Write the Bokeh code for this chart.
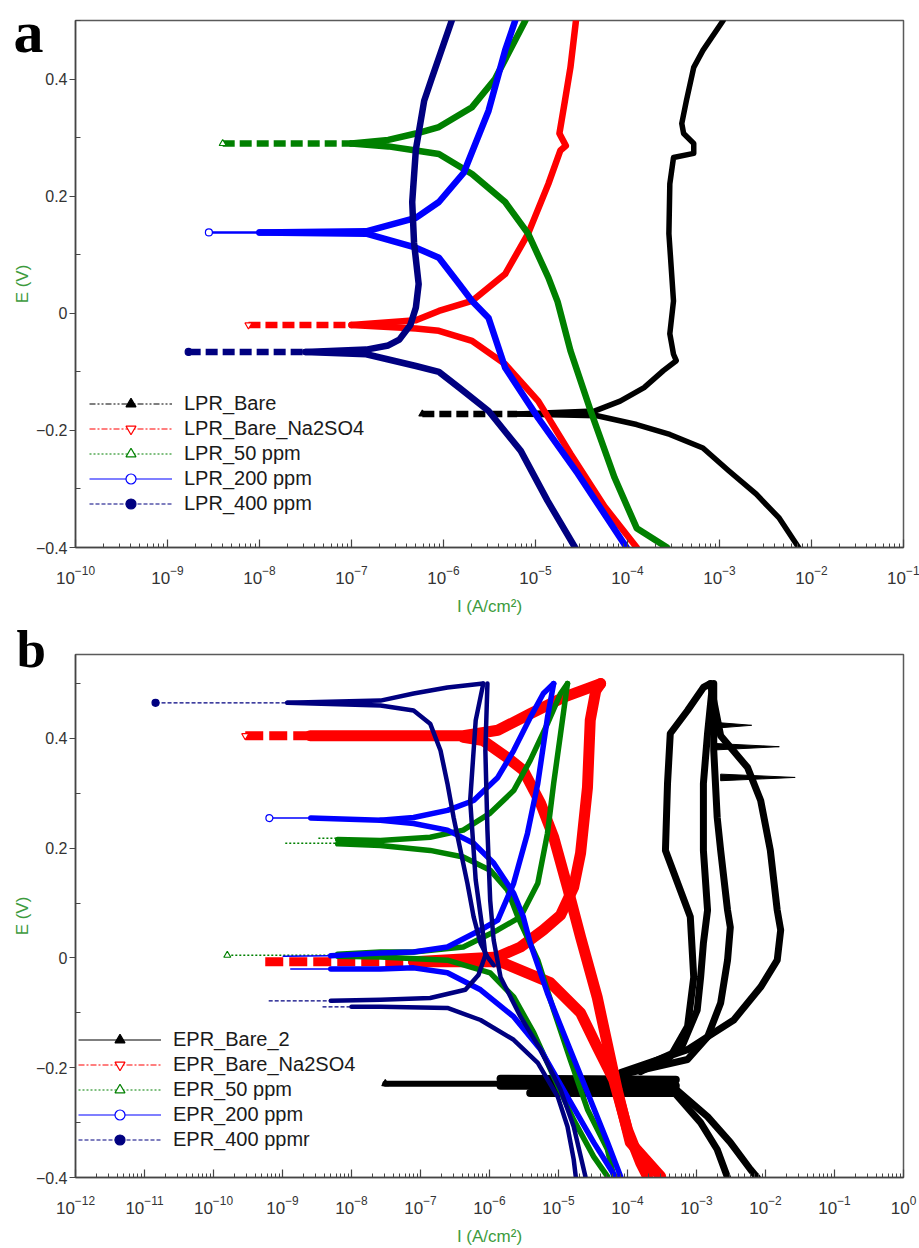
from bokeh.plotting import figure
from bokeh.models import FixedTicker, Legend, LegendItem, Title
from bokeh.layouts import column
from bokeh.embed import file_html
from bokeh.resources import INLINE

FONT = "Liberation Sans"
TXT = "#333333"
AXC = "#444444"
LABEL_GREEN = "#3d9b3d"

# series colours (Bare, Bare_Na2SO4, 50 ppm, 200 ppm, 400 ppm)
COLORS = ["#000000", "#ff0000", "#008000", "#0000ff", "#000080"]
LEG_DASH_A = ["6 2 2 2 2 2", "6 2 2 2", "2 2", "solid", "4 2"]
LEG_DASH_B = ["solid", "6 2 2 2", "2 2", "solid", "4 2"]
LEG_MARK = ["triangle", "inverted_triangle", "triangle", "circle", "circle"]
LEG_FILL = ["#000000", "#ffffff", "#ffffff", "#ffffff", "#000080"]

A_LABELS = ["LPR_Bare", "LPR_Bare_Na2SO4", "LPR_50 ppm", "LPR_200 ppm", "LPR_400 ppm"]
B_LABELS = ["EPR_Bare_2", "EPR_Bare_Na2SO4", "EPR_50 ppm", "EPR_200 ppm", "EPR_400 ppmr"]

A_X_TICKS = [1e-10, 1e-9, 1e-8, 1e-7, 1e-6, 1e-5, 1e-4, 1e-3, 1e-2, 1e-1]
B_X_TICKS = [1e-12, 1e-11, 1e-10, 1e-9, 1e-8, 1e-7, 1e-6, 1e-5, 1e-4, 1e-3, 1e-2, 1e-1, 1e0]
Y_TICKS = [-0.4, -0.2, 0.0, 0.2, 0.4]
Y_MINOR = [-0.3, -0.1, 0.1, 0.3, 0.5]

# ---------------- panel a (LPR): log10 I (A/cm2) and E (V) ----------------
a_bare_ecorr_logi = [-6.23, -5.20]
a_bare_ecorr_e = [-0.172, -0.172]
a_bare_an_logi = [-5.20, -4.36, -4.08, -3.82, -3.61, -3.47, -3.50, -3.54, -3.50, -3.55,
                  -3.54, -3.50, -3.28, -3.28, -3.39, -3.41, -3.36, -3.28, -3.18, -2.96]
a_bare_an_e = [-0.172, -0.167, -0.150, -0.127, -0.098, -0.081, -0.070, -0.035, 0.021, 0.136,
               0.221, 0.266, 0.273, 0.290, 0.307, 0.324, 0.363, 0.420, 0.449, 0.500]
a_bare_cath_logi = [-5.20, -4.33, -3.90, -3.54, -3.18, -2.90, -2.60, -2.35, -2.14]
a_bare_cath_e = [-0.172, -0.175, -0.190, -0.207, -0.230, -0.269, -0.309, -0.350, -0.400]

a_na_ecorr_logi = [-8.12, -7.00]
a_na_ecorr_e = [-0.020, -0.020]
a_na_an_logi = [-7.00, -6.30, -6.05, -5.69, -5.33, -5.08, -4.86, -4.73, -4.67, -4.74, -4.68, -4.62, -4.56]
a_na_an_e = [-0.020, -0.012, 0.004, 0.021, 0.067, 0.136, 0.221, 0.278, 0.286, 0.307, 0.363, 0.420, 0.500]
a_na_cath_logi = [-7.00, -6.30, -6.05, -5.69, -5.33, -4.97, -4.62, -4.25, -3.90]
a_na_cath_e = [-0.020, -0.026, -0.030, -0.047, -0.087, -0.150, -0.240, -0.330, -0.400]

a_50_ecorr_logi = [-8.40, -7.00]
a_50_ecorr_e = [0.290, 0.290]
a_50_an_logi = [-7.00, -6.60, -6.30, -6.05, -5.69, -5.44, -5.11]
a_50_an_e = [0.290, 0.296, 0.307, 0.318, 0.352, 0.400, 0.500]
a_50_cath_logi = [-7.00, -6.60, -6.30, -6.05, -5.69, -5.33, -5.08, -4.86, -4.76, -4.62, -4.40, -4.14, -3.90, -3.57]
a_50_cath_e = [0.290, 0.285, 0.278, 0.272, 0.238, 0.190, 0.136, 0.061, 0.020, -0.064, -0.167, -0.281, -0.367, -0.400]

a_200_ecorr_logi = [-8.55, -8.00]
a_200_ecorr_e = [0.138, 0.138]
a_200_an_logi = [-8.00, -6.84, -6.30, -6.05, -5.78, -5.51, -5.33, -5.22]
a_200_an_e = [0.138, 0.140, 0.163, 0.190, 0.240, 0.346, 0.449, 0.500]
a_200_cath_logi = [-8.00, -6.84, -6.30, -6.05, -5.83, -5.69, -5.51, -5.33, -4.97, -4.54, -4.01]
a_200_cath_e = [0.138, 0.136, 0.112, 0.095, 0.050, 0.021, -0.008, -0.093, -0.179, -0.274, -0.400]

a_400_ecorr_logi = [-8.77, -7.50]
a_400_ecorr_e = [-0.066, -0.066]
a_400_an_logi = [-7.50, -6.84, -6.60, -6.48, -6.36, -6.30, -6.27, -6.32, -6.34, -6.30, -6.21, -6.13, -5.91]
a_400_an_e = [-0.066, -0.062, -0.055, -0.045, -0.020, 0.010, 0.050, 0.120, 0.190, 0.280, 0.363, 0.400, 0.500]
a_400_cath_logi = [-7.50, -6.84, -6.30, -6.05, -5.83, -5.51, -5.16, -4.87, -4.57]
a_400_cath_e = [-0.066, -0.070, -0.090, -0.100, -0.127, -0.167, -0.235, -0.320, -0.400]

# ---------------- panel b (EPR): log10 I (A/cm2) and E (V) ----------------
b_bare_ecorr_logi = [-7.51, -5.84]
b_bare_ecorr_e = [-0.229, -0.229]
b_bare_band_logi = [-5.84, -3.30]
b_bare_band_e1 = [-0.220, -0.222]
b_bare_band_e2 = [-0.233, -0.233]
b_bare_band2_logi = [-5.41, -3.35]
b_bare_band_e3 = [-0.246, -0.246]
b_bare_an1_logi = [-4.10, -3.13, -2.46, -2.07, -1.83, -1.78, -1.83, -1.93, -2.07, -2.26, -2.65, -2.75, -2.80]
b_bare_an1_e = [-0.209, -0.167, -0.113, -0.053, -0.004, 0.051, 0.087, 0.196, 0.287, 0.347, 0.405, 0.469, 0.500]
b_bare_an2_logi = [-4.10, -3.13, -2.84, -2.65, -2.55, -2.51, -2.55, -2.65, -2.70, -2.75, -2.75]
b_bare_an2_e = [-0.213, -0.185, -0.144, -0.082, -0.004, 0.056, 0.087, 0.196, 0.256, 0.378, 0.500]
b_bare_an3_logi = [-4.10, -3.23, -2.99, -2.94, -2.90, -2.84, -2.90, -2.90, -2.84, -2.77]
b_bare_an3_e = [-0.216, -0.167, -0.095, -0.035, 0.027, 0.087, 0.196, 0.318, 0.409, 0.496]
b_bare_an4_logi = [-3.81, -3.38, -3.13, -3.04, -3.09, -3.45, -3.42, -3.38, -3.13, -2.90, -2.80]
b_bare_an4_e = [-0.207, -0.180, -0.125, -0.035, 0.075, 0.196, 0.318, 0.409, 0.451, 0.493, 0.500]
b_bare_cath1_logi = [-3.33, -2.84, -2.51, -2.22, -2.12]
b_bare_cath1_e = [-0.236, -0.289, -0.336, -0.385, -0.400]
b_bare_cath2_logi = [-3.33, -2.94, -2.70, -2.55]
b_bare_cath2_e = [-0.244, -0.300, -0.349, -0.400]
b_bare_spike_e = [0.424, 0.385, 0.329]
b_bare_spike_base = [-2.80, -2.75, -2.65]
b_bare_spike_tip = [-2.20, -1.80, -1.57]
b_bare_spike_half = 0.006

b_na_ecorr_hi_logi = [-9.54, -8.60]
b_na_ecorr_hi_e = [0.405, 0.405]
b_na_up_logi = [-8.60, -7.58, -6.38, -5.88, -5.41, -4.93, -4.39]
b_na_up_e = [0.405, 0.405, 0.405, 0.415, 0.445, 0.475, 0.500]
b_na_dn_logi = [-6.38, -6.09, -5.74, -5.51, -5.26, -5.07, -4.87, -4.68, -4.44, -4.15, -3.96, -3.52]
b_na_dn_e = [0.402, 0.396, 0.365, 0.342, 0.282, 0.220, 0.129, 0.038, -0.071, -0.240, -0.336, -0.398]
b_na_ecorr_lo_logi = [-9.25, -7.10]
b_na_ecorr_lo_e = [-0.007, -0.007]
b_na_rev_logi = [-7.10, -5.88, -5.55, -5.22, -4.97, -4.78, -4.68, -4.58, -4.54, -4.46, -4.39]
b_na_rev_e = [-0.007, 0.002, 0.020, 0.051, 0.078, 0.129, 0.191, 0.311, 0.433, 0.487, 0.500]
b_na_cath_logi = [-7.10, -5.84, -5.12, -4.68, -4.44, -4.20, -4.00, -3.81, -3.71]
b_na_cath_e = [-0.007, -0.007, -0.045, -0.100, -0.162, -0.222, -0.313, -0.373, -0.398]

b_50_ecorr_hi1_logi = [-8.96, -8.20]
b_50_ecorr_hi1_e = [0.209, 0.209]
b_50_ecorr_hi2_logi = [-8.48, -8.20]
b_50_ecorr_hi2_e = [0.218, 0.218]
b_50_up_logi = [-8.20, -7.58, -6.86, -6.38, -5.99, -5.65, -5.41, -5.16, -4.97, -4.87]
b_50_up_e = [0.216, 0.214, 0.220, 0.233, 0.264, 0.305, 0.360, 0.427, 0.482, 0.500]
b_50_dn_logi = [-8.20, -7.58, -6.86, -6.38, -5.99, -5.74, -5.59, -5.30, -5.07, -4.83, -4.58, -4.29, -4.20]
b_50_dn_e = [0.208, 0.205, 0.196, 0.184, 0.160, 0.124, 0.075, -0.004, -0.095, -0.185, -0.276, -0.349, -0.398]
b_50_rev_logi = [-4.87, -4.97, -5.07, -5.16, -5.30, -5.55, -5.88, -6.38, -7.10, -7.58, -8.20]
b_50_rev_e = [0.500, 0.409, 0.318, 0.227, 0.136, 0.075, 0.051, 0.020, 0.011, 0.011, 0.007]
b_50_ecorr_lo_logi = [-9.80, -8.20]
b_50_ecorr_lo_e = [0.005, 0.005]
b_50_cath_logi = [-8.20, -7.58, -6.61, -5.99, -5.65, -5.36, -5.07, -4.78, -4.49, -4.29]
b_50_cath_e = [0.003, 0.002, -0.004, -0.027, -0.071, -0.136, -0.216, -0.295, -0.362, -0.398]

b_200_ecorr_hi_logi = [-9.19, -8.59]
b_200_ecorr_hi_e = [0.255, 0.255]
b_200_up_logi = [-8.59, -7.58, -7.10, -6.61, -6.23, -5.88, -5.65, -5.41, -5.22, -5.07]
b_200_up_e = [0.255, 0.251, 0.256, 0.269, 0.287, 0.329, 0.378, 0.438, 0.482, 0.500]
b_200_dn_logi = [-7.58, -7.10, -6.61, -6.23, -5.94, -5.65, -5.51, -5.41, -5.16, -4.87, -4.58, -4.29, -4.10]
b_200_dn_e = [0.251, 0.245, 0.233, 0.209, 0.173, 0.118, 0.075, 0.027, -0.064, -0.155, -0.245, -0.336, -0.398]
b_200_rev_logi = [-5.07, -5.16, -5.30, -5.45, -5.65, -5.88, -6.13, -6.61, -7.10, -7.58, -8.30]
b_200_rev_e = [0.500, 0.438, 0.318, 0.227, 0.136, 0.069, 0.051, 0.020, 0.011, 0.009, 0.004]
b_200_ecorr_lo1_logi = [-8.99, -8.30]
b_200_ecorr_lo1_e = [0.003, 0.004]
b_200_ecorr_lo2_logi = [-8.88, -8.30]
b_200_ecorr_lo2_e = [-0.020, -0.020]
b_200_cath_logi = [-8.30, -7.58, -7.10, -6.61, -6.13, -5.65, -5.26, -4.87, -4.49, -4.17]
b_200_cath_e = [-0.020, -0.020, -0.018, -0.027, -0.058, -0.107, -0.167, -0.253, -0.336, -0.400]

b_400_ecorr_hi_logi = [-10.84, -8.93]
b_400_ecorr_hi_e = [0.465, 0.465]
b_400_up_logi = [-8.93, -7.58, -7.10, -6.61, -6.09]
b_400_up_e = [0.465, 0.469, 0.482, 0.493, 0.500]
b_400_dn_logi = [-8.93, -7.58, -7.10, -6.86, -6.71, -6.61, -6.52, -6.42, -6.32, -6.23, -6.13, -6.03, -5.94]
b_400_dn_e = [0.465, 0.460, 0.451, 0.427, 0.378, 0.318, 0.256, 0.196, 0.136, 0.075, 0.027, 0.002, -0.013]
b_400_rev1_logi = [-6.09, -6.20, -6.28, -6.20, -6.10, -6.06, -6.16, -6.35, -6.86, -7.58, -8.30]
b_400_rev1_e = [0.500, 0.433, 0.287, 0.142, 0.051, 0.005, -0.031, -0.058, -0.073, -0.076, -0.078]
b_400_rev2_logi = [-6.03, -6.06, -6.03, -5.99, -5.94, -5.84, -5.55, -5.26, -4.97, -4.78, -4.61]
b_400_rev2_e = [0.500, 0.378, 0.233, 0.105, 0.033, -0.035, -0.107, -0.167, -0.240, -0.307, -0.398]
b_400_ecorr_lo1_logi = [-9.20, -8.30]
b_400_ecorr_lo1_e = [-0.078, -0.078]
b_400_ecorr_lo2_logi = [-8.42, -8.00]
b_400_ecorr_lo2_e = [-0.089, -0.089]
b_400_cath_logi = [-8.00, -7.58, -6.61, -6.13, -5.65, -5.30, -5.01, -4.87, -4.78, -4.75]
b_400_cath_e = [-0.089, -0.089, -0.091, -0.113, -0.149, -0.191, -0.253, -0.307, -0.367, -0.398]


def to_i(logi):
    return [10.0 ** v for v in logi]


def curve(p, logi, e, color, width, dash="solid"):
    cap = "round" if dash == "solid" else "butt"
    p.line(to_i(logi), e, line_color=color, line_width=width, line_dash=dash,
           line_join="round", line_cap=cap)


def make_fig(height, xr, ticks, yr, b_left, b_right, b_top, b_bottom):
    p = figure(width=919, height=height, x_axis_type="log", x_range=xr, y_range=yr,
               output_backend="svg", toolbar_location=None,
               min_border_left=b_left, min_border_right=b_right,
               min_border_top=b_top, min_border_bottom=b_bottom,
               background_fill_color="white", border_fill_color="white")
    p.xgrid.visible = False
    p.ygrid.visible = False
    p.outline_line_color = "#5a5a5a"
    p.outline_line_width = 1.5
    minor = [m * t for t in ticks[:-1] for m in range(2, 10)]
    p.xaxis.ticker = FixedTicker(ticks=ticks, minor_ticks=minor)
    p.yaxis.ticker = FixedTicker(ticks=Y_TICKS, minor_ticks=Y_MINOR)
    for ax in (p.xaxis[0], p.yaxis[0]):
        ax.axis_line_color = AXC
        ax.axis_line_width = 1.5
        ax.major_tick_line_color = AXC
        ax.minor_tick_line_color = AXC
        ax.major_tick_line_width = 1.2
        ax.major_label_text_font = FONT
        ax.major_label_text_color = TXT
        ax.axis_label_text_font = FONT
        ax.axis_label_text_font_size = "17px"
        ax.axis_label_text_font_style = "normal"
        ax.axis_label_text_color = LABEL_GREEN
    p.xaxis.major_label_text_font_size = "17px"
    p.yaxis.major_label_text_font_size = "16px"
    p.xaxis.major_tick_in = 8
    p.xaxis.major_tick_out = 0
    p.xaxis.minor_tick_in = 4
    p.xaxis.minor_tick_out = 0
    p.xaxis.major_label_standoff = 18
    p.xaxis.axis_label_standoff = 10
    p.yaxis.major_tick_in = 0
    p.yaxis.major_tick_out = 6
    p.yaxis.minor_tick_in = 5
    p.yaxis.minor_tick_out = 0
    p.yaxis.major_label_standoff = 2
    p.yaxis.axis_label_standoff = 1
    p.xaxis.axis_label = "I (A/cm\u00b2)"
    p.yaxis.axis_label = "E (V)"
    return p


def add_legend(p, labels, dashes, starts, x, y):
    items = []
    for lab, col, dash, mk, fill, (sx, sy) in zip(labels, COLORS, dashes, LEG_MARK, LEG_FILL, starts):
        lr = p.line(to_i([sx]), [sy], line_color=col, line_width=1.2, line_dash=dash)
        mr = p.scatter(to_i([sx]), [sy], marker=mk, size=7, line_color=col,
                       fill_color=fill, line_width=1.2)
        items.append(LegendItem(label=lab, renderers=[lr, mr]))
    leg = Legend(items=items, location=(x, y), glyph_width=83, glyph_height=25,
                 label_height=20, spacing=0, padding=0, margin=0, label_standoff=12,
                 label_text_font=FONT, label_text_font_size="20px",
                 label_text_color="#1a1a1a", label_text_baseline="middle",
                 border_line_alpha=0, background_fill_alpha=0)
    p.add_layout(leg)


def panel_letter(p, text, offset, standoff, size, line_height=1.0):
    p.add_layout(Title(text=text, align="left", vertical_align="bottom", offset=offset,
                       standoff=standoff, text_font="Liberation Serif",
                       text_font_style="bold", text_font_size=size, text_color="black",
                       text_line_height=line_height),
                 "above")


# ---------------- panel a ----------------
pa = make_fig(620, (1e-10, 1e-1), A_X_TICKS, (-0.4, 0.5), 73, 10, 20, 73)
W = 6.5
DASH = "12 5"
curve(pa, a_bare_ecorr_logi, a_bare_ecorr_e, COLORS[0], W, DASH)
curve(pa, a_bare_an_logi, a_bare_an_e, COLORS[0], 5.5)
curve(pa, a_bare_cath_logi, a_bare_cath_e, COLORS[0], 5.5)
curve(pa, a_na_ecorr_logi, a_na_ecorr_e, COLORS[1], W, DASH)
curve(pa, a_na_an_logi, a_na_an_e, COLORS[1], W)
curve(pa, a_na_cath_logi, a_na_cath_e, COLORS[1], W)
curve(pa, a_50_ecorr_logi, a_50_ecorr_e, COLORS[2], W, DASH)
curve(pa, a_50_an_logi, a_50_an_e, COLORS[2], W)
curve(pa, a_50_cath_logi, a_50_cath_e, COLORS[2], W)
curve(pa, a_200_ecorr_logi, a_200_ecorr_e, COLORS[3], 2.5)
curve(pa, a_200_an_logi, a_200_an_e, COLORS[3], W)
curve(pa, a_200_cath_logi, a_200_cath_e, COLORS[3], W)
curve(pa, a_400_ecorr_logi, a_400_ecorr_e, COLORS[4], W, DASH)
curve(pa, a_400_an_logi, a_400_an_e, COLORS[4], W)
curve(pa, a_400_cath_logi, a_400_cath_e, COLORS[4], W)
a_starts = [(a_bare_ecorr_logi[0], a_bare_ecorr_e[0]), (a_na_ecorr_logi[0], a_na_ecorr_e[0]),
            (a_50_ecorr_logi[0], a_50_ecorr_e[0]), (a_200_ecorr_logi[0], a_200_ecorr_e[0]),
            (a_400_ecorr_logi[0], a_400_ecorr_e[0])]
add_legend(pa, A_LABELS, LEG_DASH_A, a_starts, 14, 31)
panel_letter(pa, "\na", -62, -90, "60px", line_height=0.47)

# ---------------- panel b ----------------
pb = make_fig(628, (1e-12, 1e0), B_X_TICKS, (-0.4, 0.553), 75, 16, 34, 70)
BW = 7
curve(pb, b_bare_ecorr_logi, b_bare_ecorr_e, COLORS[0], 6)
curve(pb, b_bare_band_logi, b_bare_band_e1, COLORS[0], 8)
curve(pb, b_bare_band_logi, b_bare_band_e2, COLORS[0], 8)
curve(pb, b_bare_band2_logi, b_bare_band_e3, COLORS[0], 8)
for lg, ee in [(b_bare_an1_logi, b_bare_an1_e), (b_bare_an2_logi, b_bare_an2_e),
               (b_bare_an3_logi, b_bare_an3_e), (b_bare_an4_logi, b_bare_an4_e),
               (b_bare_cath1_logi, b_bare_cath1_e), (b_bare_cath2_logi, b_bare_cath2_e)]:
    curve(pb, lg, ee, COLORS[0], BW)
pb.patches([to_i([b0, t, b0]) for b0, t in zip(b_bare_spike_base, b_bare_spike_tip)],
           [[e - b_bare_spike_half, e, e + b_bare_spike_half] for e in b_bare_spike_e],
           fill_color=COLORS[0], line_color=COLORS[0], line_width=1)
curve(pb, b_na_ecorr_hi_logi, b_na_ecorr_hi_e, COLORS[1], 9, "18 6")
curve(pb, b_na_ecorr_lo_logi, b_na_ecorr_lo_e, COLORS[1], 9, "18 6")
for lg, ee in [(b_na_up_logi, b_na_up_e), (b_na_dn_logi, b_na_dn_e),
               (b_na_rev_logi, b_na_rev_e), (b_na_cath_logi, b_na_cath_e)]:
    curve(pb, lg, ee, COLORS[1], 11)
for lg, ee in [(b_50_ecorr_hi1_logi, b_50_ecorr_hi1_e), (b_50_ecorr_hi2_logi, b_50_ecorr_hi2_e),
               (b_50_ecorr_lo_logi, b_50_ecorr_lo_e)]:
    curve(pb, lg, ee, COLORS[2], 1.5, "2 2")
for lg, ee in [(b_50_up_logi, b_50_up_e), (b_50_dn_logi, b_50_dn_e),
               (b_50_rev_logi, b_50_rev_e), (b_50_cath_logi, b_50_cath_e)]:
    curve(pb, lg, ee, COLORS[2], 5.5)
for lg, ee in [(b_200_ecorr_hi_logi, b_200_ecorr_hi_e), (b_200_ecorr_lo1_logi, b_200_ecorr_lo1_e),
               (b_200_ecorr_lo2_logi, b_200_ecorr_lo2_e)]:
    curve(pb, lg, ee, COLORS[3], 1.5)
for lg, ee in [(b_200_up_logi, b_200_up_e), (b_200_dn_logi, b_200_dn_e),
               (b_200_rev_logi, b_200_rev_e), (b_200_cath_logi, b_200_cath_e)]:
    curve(pb, lg, ee, COLORS[3], 5.5)
for lg, ee in [(b_400_ecorr_hi_logi, b_400_ecorr_hi_e), (b_400_ecorr_lo1_logi, b_400_ecorr_lo1_e),
               (b_400_ecorr_lo2_logi, b_400_ecorr_lo2_e)]:
    curve(pb, lg, ee, COLORS[4], 1.2, "4 2")
for lg, ee in [(b_400_up_logi, b_400_up_e), (b_400_dn_logi, b_400_dn_e),
               (b_400_rev1_logi, b_400_rev1_e), (b_400_rev2_logi, b_400_rev2_e),
               (b_400_cath_logi, b_400_cath_e)]:
    curve(pb, lg, ee, COLORS[4], 4.5)
b_starts = [(b_bare_ecorr_logi[0], b_bare_ecorr_e[0]), (b_na_ecorr_hi_logi[0], b_na_ecorr_hi_e[0]),
            (b_50_ecorr_lo_logi[0], b_50_ecorr_lo_e[0]), (b_200_ecorr_hi_logi[0], b_200_ecorr_hi_e[0]),
            (b_400_ecorr_hi_logi[0], b_400_ecorr_hi_e[0])]
add_legend(pb, B_LABELS, LEG_DASH_B, b_starts, 3, 25)
panel_letter(pb, "b", -59, -47, "53px")

layout = column(pa, pb, spacing=0)
open("out.html", "w").write(file_html(layout, INLINE))
